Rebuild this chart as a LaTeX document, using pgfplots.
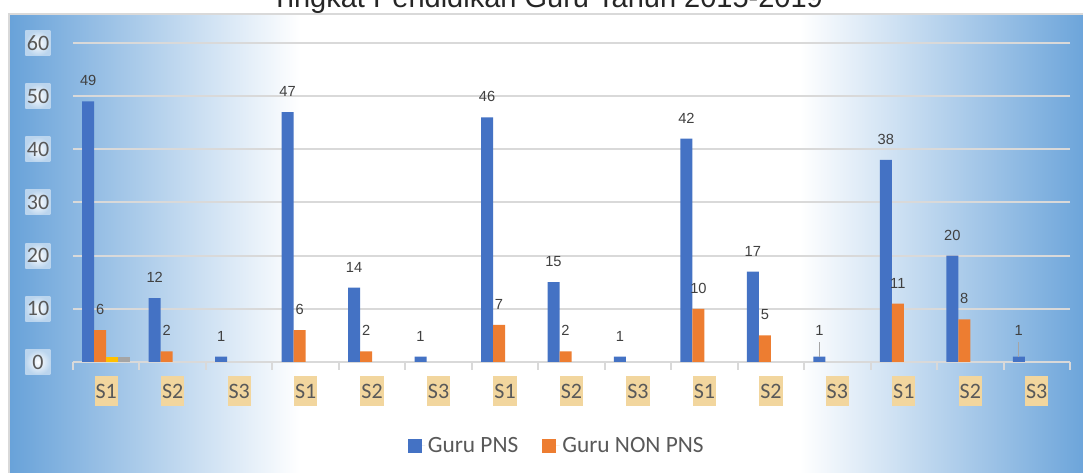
\documentclass[border=0pt]{standalone}
\usepackage{pgfplots}
\pgfplotsset{compat=1.18}
\usepackage{pgfplotstable}
\usepackage{fontspec}
\setmainfont{Carlito}
\newfontfamily\arial{Liberation Sans}
\definecolor{bgblue}{RGB}{104,162,217}
\definecolor{cPNS}{HTML}{4472C4}
\definecolor{cNON}{HTML}{ED7D31}
\definecolor{cY}{HTML}{FFC000}
\definecolor{cG}{HTML}{A5A5A5}
\definecolor{txt}{HTML}{595959}
\definecolor{gridc}{HTML}{D9D9D9}
\definecolor{tanc}{RGB}{242,214,158}

\pgfplotstableread{
x y off
0 49 0
1 12 0
2 1 0
3 47 0
4 14 0
5 1 0
6 46 0
7 15 0
8 1 0
9 42 0
10 17 0
11 1 4.5
12 38 0
13 20 0
14 1 4.5
}\pns

\pgfplotstableread{
x y
0 6
1 2
3 6
4 2
6 7
7 2
9 10
10 5
12 11
13 8
}\non

\begin{document}
\begin{tikzpicture}
\useasboundingbox (-54.75pt,-83.25pt) rectangle (757.5pt,271.5pt);
\shade[left color=bgblue,right color=white] (-48pt,-90pt) rectangle (170.25pt,261pt);
\fill[white] (170.2pt,-90pt) rectangle (545.3pt,261pt);
\shade[left color=white,right color=bgblue] (545.25pt,-90pt) rectangle (765pt,261pt);
\draw[gridc, line width=0.9pt] (-48pt,-90pt) -- (-48pt,261pt) -- (765pt,261pt);
\node[font=\arial\fontsize{21.75}{26}\selectfont, anchor=base, text=black!85] at (355.5pt,265.5pt) {Tingkat Pendidikan Guru Tahun 2015-2019};
\begin{axis}[
  at={(0pt,0pt)}, anchor=south west,
  scale only axis, width=747.75pt, height=239.25pt,
  xmin=-0.5, xmax=14.5, ymin=0, ymax=60,
  /pgf/number format/assume math mode=true,
  ybar, bar width=9pt,
  axis line style={draw=none},
  tick pos=left, tick align=outside,
  ymajorgrids, grid style={draw=gridc, line width=1.5pt},
  ytick={0,10,...,60},
  xtick={0,...,14},
  xticklabels={S1,S2,S3,S1,S2,S3,S1,S2,S3,S1,S2,S3,S1,S2,S3},
  minor xtick={-0.5,0.5,...,14.5},
  major tick length=0pt,
  minor tick length=6pt,
  minor tick style={draw=gridc, line width=1.5pt},
  yticklabel style={font=\fontsize{16.5}{18}\selectfont, text=txt, inner color=white, outer color=white!55!bgblue, minimum size=18.75pt, inner sep=0pt, anchor=center, xshift=-26.25pt},
  xticklabel style={font=\fontsize{16.5}{18}\selectfont, text=txt, fill=tanc, anchor=center, yshift=-21.75pt, minimum height=23pt, inner xsep=0.75pt},
  legend columns=-1,
  legend style={at={(0.4855,-0.263)}, anchor=center, draw=none, fill=none, font=\fontsize{17.5}{20}\selectfont, text=txt, /tikz/every even column/.append style={column sep=16pt}},
  legend image code/.code={\fill[#1] (0pt,-5.25pt) rectangle (10.5pt,5.25pt); \path (0pt,0pt) -- (13pt,0pt);},
  nodes near coords style={font=\arial\fontsize{11}{12}\selectfont, text=black!75, anchor=south},
]
\addplot[fill=cPNS, draw=none, bar shift=-13.5pt,
  visualization depends on={\thisrow{off} \as \off},
  nodes near coords,
  nodes near coords style={yshift=8pt+\off*1pt}] table[x=x,y=y]{\pns};
\addlegendentry{Guru PNS}
\addplot[fill=cNON, draw=none, bar shift=-4.5pt, nodes near coords,
  nodes near coords style={yshift=8pt}] table[x=x,y=y]{\non};
\addlegendentry{Guru NON PNS}
\addplot[fill=cY, draw=none, bar shift=4.5pt, forget plot] coordinates {(0,1)};
\addplot[fill=cG, draw=none, bar shift=13.5pt, forget plot] coordinates {(0,1)};
\draw[cG, line width=0.75pt] ([xshift=-13.5pt]axis cs:11,1) -- ++(0pt,11pt);
\draw[cG, line width=0.75pt] ([xshift=-13.5pt]axis cs:14,1) -- ++(0pt,11pt);
\end{axis}
\end{tikzpicture}
\end{document}
